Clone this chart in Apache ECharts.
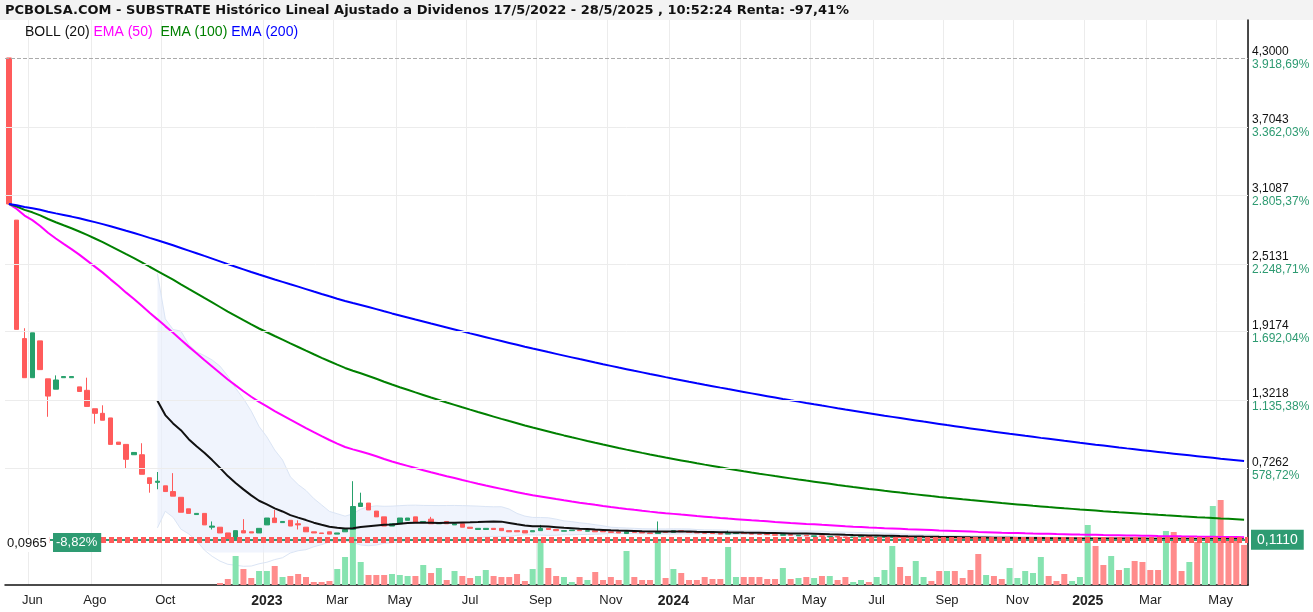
<!DOCTYPE html>
<html><head><meta charset="utf-8">
<script src="https://cdn.jsdelivr.net/npm/echarts@6/dist/echarts.min.js"></script>
<style>html,body{margin:0;padding:0;background:#fff}#c{width:1313px;height:612px}</style>
</head><body><div id="c"></div>
<script>
// ---- data (weekly, from 16/5/2022) ----
const startDate = '2022-05-16';
const weekCount = 159;
const opens = [4.30,2.89,1.86,1.52,1.84,1.51,1.42,1.52,1.52,1.44,1.41,1.25,1.21,1.17,0.96,0.94,0.85,0.85,0.65,0.61,0.58,0.53,0.48,0.38,0.33,0.34,0.22,0.22,0.17,0.11,0.19,0.18,0.17,0.24,0.30,0.26,0.28,0.25,0.22,0.18,0.17,0.18,0.16,0.18,0.20,
0.40,0.43,0.36,0.31,0.23,0.25,0.28,0.31,0.26,0.29,0.25,0.27,0.24,0.25,0.22,0.20,0.20,0.21,0.21,0.19,0.19,0.19,0.18,0.19,
0.21,0.20,0.185,0.19,0.195,0.185,0.19,0.185,0.18,0.18,0.165,0.18,0.175,0.17,0.165,0.18,0.175,0.19,0.18,0.175,0.17,0.168,0.165,0.16,0.165,0.17,0.165,0.16,0.158,0.155,0.15,0.155,0.145,0.15,0.14,0.145,0.135,0.14,0.135,0.13,0.135,0.14,0.13,0.13,0.13,
0.135,0.13,0.126,0.128,0.132,0.128,0.124,0.128,0.125,0.123,0.122,0.118,0.122,0.12,0.117,0.12,0.121,0.123,0.124,0.128,0.124,0.12,0.118,0.119,0.12,0.125,0.12,0.116,0.12,0.117,0.12,0.118,0.116,0.115,0.112,0.118,0.115,0.112,0.115,0.112,0.115,0.12,0.115,0.113,0.112];
const closes = [3.03,1.94,1.52,1.91,1.59,1.36,1.50,1.53,1.53,1.40,1.27,1.21,1.15,0.94,0.94,0.81,0.87,0.68,0.60,0.62,0.53,0.49,0.35,0.34,0.34,0.24,0.23,0.17,0.11,0.19,0.17,0.17,0.21,0.30,0.26,0.27,0.23,0.24,0.18,0.17,0.165,0.16,0.17,0.20,0.40,
0.43,0.37,0.31,0.23,0.25,0.30,0.30,0.26,0.27,0.25,0.26,0.25,0.25,0.22,0.21,0.21,0.21,0.20,0.19,0.18,0.18,0.17,0.19,0.21,
0.20,0.19,0.19,0.195,0.19,0.19,0.18,0.18,0.175,0.17,0.18,0.175,0.17,0.165,0.18,0.175,0.19,0.18,0.175,0.17,0.168,0.165,0.16,0.165,0.17,0.165,0.16,0.158,0.155,0.15,0.155,0.15,0.15,0.145,0.145,0.14,0.14,0.135,0.13,0.135,0.14,0.13,0.135,0.14,0.14,
0.13,0.128,0.13,0.132,0.128,0.125,0.128,0.125,0.123,0.12,0.118,0.122,0.12,0.118,0.12,0.122,0.124,0.126,0.128,0.124,0.12,0.118,0.12,0.121,0.125,0.12,0.117,0.12,0.118,0.12,0.118,0.116,0.115,0.113,0.118,0.115,0.113,0.115,0.113,0.116,0.12,0.115,0.112,0.11,0.111];
// explicit wick extremes (index: value) where visible
const highs = {2:1.95,5:1.51,6:1.54,10:1.52,12:1.28,17:0.95,19:0.70,21:0.69,26:0.27,30:0.29,34:0.37,37:0.28,44:0.62,45:0.52,54:0.31,68:0.24,83:0.27,92:0.19};
const lows = {5:1.18,11:1.12,15:0.73,18:0.52,19:0.55,26:0.20,37:0.20};
const volumes = [0,0,0,0,0,0,0,0,0,0,0,0,0,0,0,0,0,0,0,0,0,0,0,0,0,0,0,
2,6,29,16,7,14,14,19,8,9,11,8,3,3,4,16,28,65,23,10,10,10,11,10,9,9,20,12,17,5,14,9,7,9,15,9,8,8,11,4,16,
46,17,9,8,3,8,5,13,5,8,5,34,8,5,5,46,7,16,12,5,5,8,6,6,38,8,8,8,8,6,6,17,6,7,8,7,9,9,5,8,3,5,3,8,15,39,
18,9,24,8,4,14,14,14,7,15,31,10,9,6,17,7,14,12,28,9,4,11,4,8,60,39,20,29,15,17,24,23,15,15,54,53,14,23,43,43,79,85,44,44,40];
const priceTicks = [4.3,3.7043,3.1087,2.5131,1.9174,1.3218,0.7262];
const priceTickLabels = ['4,3000','3,7043','3,1087','2,5131','1,9174','1,3218','0,7262'];
const pctTickLabels = ['3.918,69%','3.362,03%','2.805,37%','2.248,71%','1.692,04%','1.135,38%','578,72%'];
const lastPrice = 0.111;
const monthNames = ['Ene','Feb','Mar','Abr','May','Jun','Jul','Ago','Sep','Oct','Nov','Dic'];
const labelMonths2022 = [6,8,10];
const labelMonths = [1,3,5,7,9,11];

// ---- build ----
const cats = [], labelIdx = {};
let d0 = new Date(startDate + 'T00:00:00Z');
for (let i = 0; i < weekCount; i++) {
  const d = new Date(d0.getTime() + i * 7 * 86400000);
  cats.push(d.toISOString().slice(0, 10));
  const day = d.getUTCDate();
  if (day <= 7) {
    const m = d.getUTCMonth() + 1, y = d.getUTCFullYear();
    if ((y === 2022 && labelMonths2022.includes(m)) || (y > 2022 && labelMonths.includes(m)))
      labelIdx[i] = m === 1 ? String(y) : monthNames[m - 1];
  }
}
const ohlc = opens.map((o, i) => {
  const c = closes[i];
  const h = highs[i] !== undefined ? Math.max(highs[i], o, c) : Math.max(o, c);
  const l = lows[i] !== undefined ? Math.min(lows[i], o, c) : Math.min(o, c);
  return [o, c, l, h];
});
function ema(n) {
  const a = 2 / (n + 1); let v = closes[0]; const out = [];
  closes.forEach((c, i) => { v = i === 0 ? c : a * c + (1 - a) * v; out.push(+v.toFixed(4)); });
  return out;
}
const mid = [], up = [], lo = [];
closes.forEach((c, i) => {
  if (i < 19) { mid.push('-'); up.push('-'); lo.push('-'); return; }
  const w = closes.slice(i - 19, i + 1);
  const m = w.reduce((s, x) => s + x, 0) / 20;
  const sd = Math.sqrt(w.reduce((s, x) => s + (x - m) * (x - m), 0) / 20);
  mid.push(m); up.push(m + 2 * sd); lo.push(m - 2 * sd);
});
const bandDiff = up.map((v, i) => v === '-' ? '-' : v - lo[i]);
const UP = '#26a06b', DOWN = '#ff5b5b', VUP = '#86e3b0', VDOWN = '#ff8c8c';
const volData = volumes.map((v, i) => ({ value: v, itemStyle: { color: closes[i] >= opens[i] ? VUP : VDOWN } }));

const chart = echarts.init(document.getElementById('c'), null, { renderer: 'canvas' });
const isLab = (i) => labelIdx[i] !== undefined;
chart.setOption({
  animation: false,
  backgroundColor: '#fff',
  textStyle: { fontFamily: 'Liberation Sans, Arial, sans-serif' },
  graphic: [
    { type: 'rect', left: 0, top: 0, shape: { width: 1313, height: 20 }, style: { fill: '#f3f3f3' }, z: 0 },
    { type: 'text', left: 5, top: 4, style: { text: 'PCBOLSA.COM - SUBSTRATE Histórico Lineal Ajustado a Dividenos 17/5/2022 - 28/5/2025 , 10:52:24 Renta: -97,41%', font: 'bold 13px "DejaVu Sans", sans-serif', fill: '#111' }, z: 10 },
    { type: 'text', left: 25, top: 25, style: { rich: { b: { fill: '#111', fontSize: 14 }, m: { fill: '#ff00ff', fontSize: 14 }, g: { fill: '#008000', fontSize: 14 }, u: { fill: '#0000ff', fontSize: 14 } }, text: '{b|BOLL (20)} {m|EMA (50)}  {g|EMA (100)} {u|EMA (200)}', font: '14px "Liberation Sans", Arial' }, z: 10 },
    { type: 'text', left: 4, top: 535, style: { text: '0,0965', font: '13px "Liberation Sans", Arial', fill: '#111', backgroundColor: '#fff', padding: [2, 3] }, z: 20 },
    { type: 'text', left: 53, top: 533, style: { text: '-8,82%', font: '13px "Liberation Sans", Arial', fill: '#fff', backgroundColor: '#2e9b72', padding: [3, 4, 3, 3] }, z: 20 }
  ],
  grid: [{ left: 5, right: 65, top: 20, bottom: 27 }],
  xAxis: [{
    type: 'category', data: cats, boundaryGap: true,
    axisLine: { onZero: false, lineStyle: { color: '#111', width: 1.5 } }, axisTick: { show: false },
    axisLabel: {
      interval: (i) => isLab(i), formatter: (v, i) => { const t = labelIdx[i]; return /^\d{4}$/.test(t) ? '{y|' + t + '}' : t; },
      color: '#222', fontSize: 13, margin: 9,
      rich: { y: { fontWeight: 'bold', fontSize: 14, color: '#222' } }
    },
    splitLine: { show: true, interval: (i) => isLab(i), lineStyle: { color: '#ececec' } }
  }],
  yAxis: [{
    type: 'value', position: 'right', min: -0.2825, max: 4.63, scale: true,
    axisLine: { show: true, lineStyle: { color: '#111', width: 1.5 } }, axisTick: { show: false },
    axisLabel: {
      customValues: priceTicks, fontSize: 12, margin: 4, lineHeight: 13,
      formatter: (v) => { const k = priceTicks.findIndex(t => Math.abs(t - v) < 1e-6); return k < 0 ? '' : '{p|' + priceTickLabels[k] + '}\n{q|' + pctTickLabels[k] + '}'; },
      rich: { p: { color: '#111', fontSize: 12 }, q: { color: '#2e9b72', fontSize: 12 } }
    },
    splitLine: { show: false }
  }, { type: 'value', min: 0, max: 565, show: false }],
  series: [
    { type: 'line', data: [], markLine: { silent: true, symbol: 'none', label: { show: false },
        data: priceTicks.slice(1).map(v => ({ yAxis: v })), lineStyle: { color: '#ececec', type: 'solid', width: 1 } } },
    { type: 'line', data: [], markLine: { silent: true, symbol: 'none', label: { show: false }, data: [{ yAxis: 4.3 }], lineStyle: { color: '#aaa', type: 'dashed', width: 1 } } },
    { type: 'line', data: lo, stack: 'bb', symbol: 'none', lineStyle: { color: '#dbe5f5', width: 1 }, z: 1 },
    { type: 'line', data: bandDiff, stack: 'bb', symbol: 'none', lineStyle: { color: '#dbe5f5', width: 1 }, areaStyle: { color: '#e9f0fc' }, z: 1 },
    { type: 'bar', yAxisIndex: 1, data: volData, barWidth: 6, z: 2 },
    { type: 'candlestick', data: ohlc, barWidth: 5, z: 3,
      itemStyle: { color: UP, color0: DOWN, borderColor: UP, borderColor0: DOWN, borderWidth: 1 } },
    { type: 'line', data: mid, symbol: 'none', lineStyle: { color: '#111', width: 2 }, z: 4 },
    { type: 'line', data: ema(50), symbol: 'none', lineStyle: { color: '#ff00ff', width: 2 }, z: 4 },
    { type: 'line', data: ema(100), symbol: 'none', lineStyle: { color: '#008000', width: 2 }, z: 4 },
    { type: 'line', data: ema(200), symbol: 'none', lineStyle: { color: '#0000ff', width: 2 }, z: 4 },
    { type: 'line', data: [], z: 6, markLine: { silent: true, symbol: 'none',
        data: [{ yAxis: lastPrice, lineStyle: { color: '#2e9b72', width: 2, type: 'solid' },
                 label: { show: true, position: 'end', formatter: '0,1110', color: '#fff', backgroundColor: '#2e9b72', fontSize: 14, padding: [3, 6], distance: 3 } },
               { yAxis: lastPrice, lineStyle: { color: '#ff5b5b', width: 6, type: [5, 3] }, label: { show: false } }] } }
  ]
});
</script></body></html>
